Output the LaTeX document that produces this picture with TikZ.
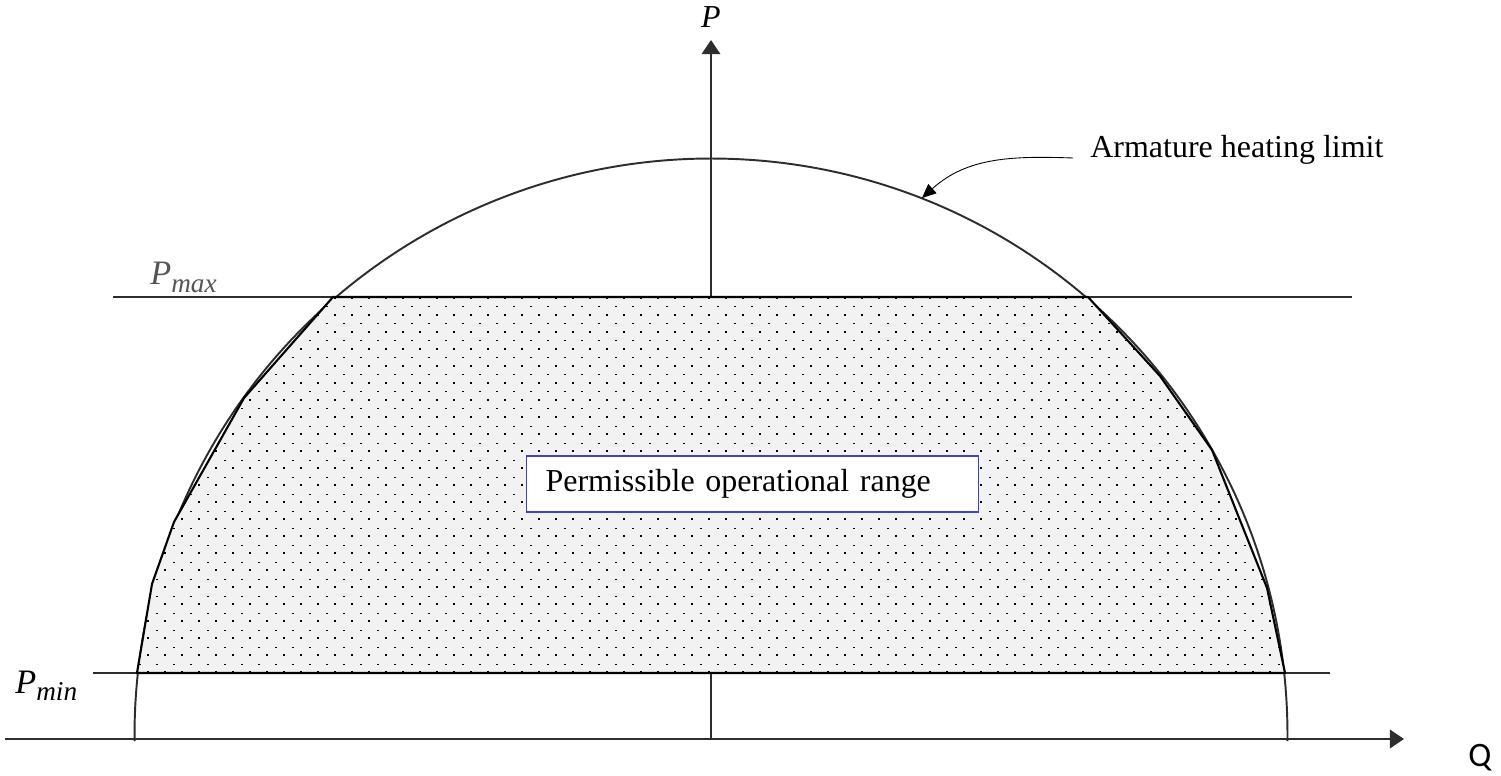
\documentclass[tikz,border=0pt]{standalone}
\usepackage{fontspec}
\setmainfont{Liberation Serif}
\newfontfamily\qfont{Carlito}
\usetikzlibrary{arrows.meta, positioning, calc}
\definecolor{axisgray}{RGB}{45,45,45}
\definecolor{labelgray}{RGB}{85,85,85}
\definecolor{boxblue}{RGB}{64,64,200}
\definecolor{rangefill}{RGB}{242,242,242}

\begin{document}
\begin{tikzpicture}[x=0.02cm, y=0.02cm, font=\fontsize{18.2}{22}\selectfont,
  axisline/.style={axisgray, line width=1.1pt},
  axistip/.style={-{Triangle[length=8pt, width=10.5pt]}},
  limitline/.style={axisgray, line width=1pt},
  rangeedge/.style={black, line width=1.2pt, line join=miter},
  opbox/.style={draw=boxblue, line width=0.6pt, fill=white, anchor=west,
    minimum width=9.04cm, minimum height=1.12cm, inner xsep=0.38cm,
    text width=8.28cm, align=left}]
  \useasboundingbox (0,0) rectangle (1501,775);
  \def\rangepath{(137,102) -- (152,191) -- (174,253) -- (244,377) -- (333,478)
    -- (1088,478) -- (1160,399) -- (1212,325) -- (1267,187) -- (1285,102) -- cycle}

  % axes
  \coordinate (origin) at (711,36);
  \coordinate (qend) at (1404,36);
  \coordinate (pend) at (711,735);
  \draw[axisline, axistip] (5,36) -- (qend);
  \draw[axisline, axistip] (origin) -- (pend);
  \node[font=\fontsize{18.2}{22}\selectfont\itshape] (plabel) at (711,758) {P};
  \node[font=\fontsize{19.5}{22}\selectfont\qfont] (qlabel) at (1480,17) {Q};

  % limits
  \draw[limitline] (113,478) -- (1352,478);
  \draw[limitline] (93,102) -- (1330,102);
  \node[anchor=base west, inner sep=0, text=labelgray, font=\fontsize{19.5}{22}\selectfont\itshape]
    (pmax) at (150,490) {P\raisebox{-0.45ex}{\fontsize{15.5}{16}\selectfont max}};
  \node[anchor=base west, inner sep=0, font=\fontsize{19.5}{22}\selectfont\itshape]
    (pmin) at (15,82) {P\raisebox{-0.45ex}{\fontsize{15.5}{16}\selectfont min}};

  % armature heating limit
  \draw[axisline] (711,40) ++(-0.6:576.5) arc[start angle=-0.6, end angle=180.6, radius=576.5];

  % permissible range
  \fill[rangefill] \rangepath;
  \begin{scope}
    \clip \rangepath;
    \foreach \r in {0,...,45} {
      \pgfmathsetmacro\yy{102+\r*8.5}
      \pgfmathsetmacro\xo{mod(\r,2)*8.5}
      \pgfmathsetmacro\hh{2-mod(\r,2)}
      \foreach \c in {0,...,68}
        \fill ({130+\xo+\c*17},\yy) rectangle +(2,\hh);
    }
  \end{scope}
  \draw[rangeedge] \rangepath;
  \node[opbox] (range) at (526,291) {Permissible operational range};

  % callout
  \node[anchor=base west, inner xsep=0.34cm, inner ysep=0] (armlabel) at (1073,617)
    {Armature heating limit};
  \coordinate (armtip) at (922,577);
  \draw[black, line width=0.5pt, -{Triangle[length=8pt, width=7pt]}]
    (armlabel.base west) to[out=178, in=42] (armtip);
\end{tikzpicture}
\end{document}
